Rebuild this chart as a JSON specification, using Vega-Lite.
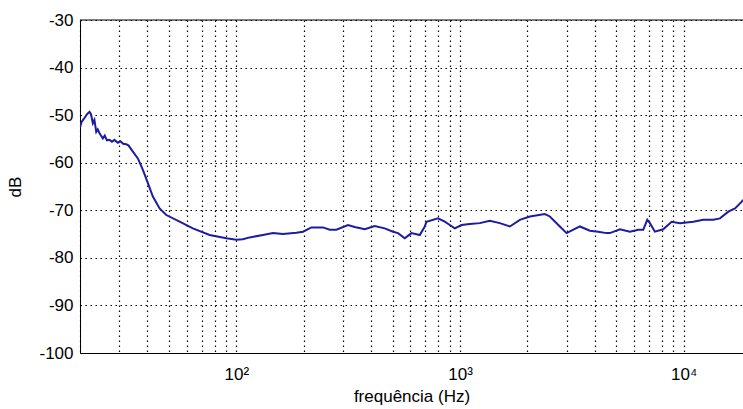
{
  "$schema": "https://vega.github.io/schema/vega-lite/v6.json",
  "width": 663,
  "height": 333,
  "autosize": {"type": "none"},
  "padding": {"left": 80, "top": 20, "right": 0, "bottom": 56},
  "background": "white",
  "config": {"view": {"stroke": null}, "font": "Liberation Sans"},
  "data": {"values": [
    {"f": 20, "db": -52.6}, {"f": 20.3, "db": -51.5}, {"f": 20.8, "db": -50.8}, {"f": 21.5, "db": -49.8},
    {"f": 22.06, "db": -49.3}, {"f": 22.4, "db": -49.8}, {"f": 22.83, "db": -51.7}, {"f": 23.2, "db": -51.0},
    {"f": 23.64, "db": -53.5}, {"f": 24.0, "db": -53.0}, {"f": 24.46, "db": -53.8}, {"f": 25.3, "db": -54.9},
    {"f": 25.8, "db": -54.3}, {"f": 26.4, "db": -55.3}, {"f": 27.11, "db": -55.2}, {"f": 27.8, "db": -55.6},
    {"f": 28.5, "db": -55.2}, {"f": 29.53, "db": -55.8}, {"f": 30.3, "db": -55.5}, {"f": 31.2, "db": -56.0},
    {"f": 32.19, "db": -56.1}, {"f": 33.0, "db": -56.4}, {"f": 33.9, "db": -57.2}, {"f": 36.29, "db": -59.1},
    {"f": 38.21, "db": -61.5}, {"f": 40.23, "db": -64.3}, {"f": 42.35, "db": -67.1}, {"f": 45.38, "db": -69.6},
    {"f": 48.63, "db": -71.0}, {"f": 55.76, "db": -72.4}, {"f": 63.94, "db": -73.8}, {"f": 75.96, "db": -75.2},
    {"f": 90.2, "db": -75.9}, {"f": 100, "db": -76.2}, {"f": 107, "db": -76.1}, {"f": 114.7, "db": -75.7},
    {"f": 131.5, "db": -75.2}, {"f": 145.8, "db": -74.8}, {"f": 161.6, "db": -75.0}, {"f": 185.5, "db": -74.7},
    {"f": 198.6, "db": -74.5}, {"f": 216.6, "db": -73.6}, {"f": 244.1, "db": -73.6}, {"f": 261.5, "db": -74.1},
    {"f": 280.2, "db": -74.1}, {"f": 315.7, "db": -73.1}, {"f": 338.3, "db": -73.5}, {"f": 375.0, "db": -74.0},
    {"f": 415.8, "db": -73.3}, {"f": 460.8, "db": -73.8}, {"f": 502.0, "db": -74.5}, {"f": 528.5, "db": -74.8},
    {"f": 566.2, "db": -75.9}, {"f": 606.7, "db": -74.8}, {"f": 660.9, "db": -75.2}, {"f": 695.9, "db": -73.4},
    {"f": 708.2, "db": -72.4}, {"f": 798.1, "db": -71.7}, {"f": 855.1, "db": -72.4}, {"f": 900.3, "db": -73.1},
    {"f": 947.8, "db": -73.8}, {"f": 1015.5, "db": -73.1}, {"f": 1106, "db": -72.9}, {"f": 1226, "db": -72.7},
    {"f": 1359, "db": -72.2}, {"f": 1507, "db": -72.7}, {"f": 1671, "db": -73.4}, {"f": 1852, "db": -72.0},
    {"f": 2053, "db": -71.3}, {"f": 2395, "db": -70.8}, {"f": 2522, "db": -71.3}, {"f": 2796, "db": -73.4},
    {"f": 2996, "db": -74.8}, {"f": 3436, "db": -73.4}, {"f": 3809, "db": -74.3}, {"f": 4148, "db": -74.5},
    {"f": 4524, "db": -74.8}, {"f": 4679, "db": -74.8}, {"f": 5188, "db": -74.0}, {"f": 5751, "db": -74.5},
    {"f": 6265, "db": -74.1}, {"f": 6596, "db": -74.1}, {"f": 6873, "db": -72.0}, {"f": 7067, "db": -72.7},
    {"f": 7438, "db": -74.5}, {"f": 8103, "db": -74.0}, {"f": 8837, "db": -72.4}, {"f": 9627, "db": -72.7},
    {"f": 11040, "db": -72.4}, {"f": 12240, "db": -72.0}, {"f": 13566, "db": -72.0}, {"f": 14536, "db": -71.7},
    {"f": 15838, "db": -70.3}, {"f": 16966, "db": -69.6}, {"f": 18180, "db": -68.2}, {"f": 18420, "db": -67.8}
  ]},
  "layer": [
    {
      "data": {"values": [{}]},
      "mark": {"type": "rule", "color": "black", "strokeWidth": 1},
      "encoding": {"y": {"datum": -30, "type": "quantitative"}}
    },
    {
      "mark": {"type": "line", "color": "#1c1ca0", "strokeWidth": 2, "clip": true},
      "encoding": {
        "x": {
          "field": "f", "type": "quantitative",
          "scale": {"type": "log", "domain": [20, 18420], "nice": false},
          "axis": {
            "title": "frequência (Hz)",
            "values": [20, 30, 40, 50, 60, 70, 80, 90, 100, 200, 300, 400, 500, 600, 700, 800, 900, 1000, 2000, 3000, 4000, 5000, 6000, 7000, 8000, 9000, 10000],
            "labelExpr": "datum.value == 100 ? '10²' : datum.value == 1000 ? '10³' : datum.value == 10000 ? '10⁴' : ''",
            "grid": true, "gridDash": [1.5, 3.5], "gridColor": "#000", "gridOpacity": 1, "gridWidth": 1.2,
            "ticks": false, "domainColor": "#000", "domainWidth": 1,
            "labelFontSize": 17, "labelColor": "#000", "labelPadding": 13, "labelOverlap": false, "labelFlush": false,
            "titleFontSize": 17, "titleFontWeight": "normal", "titleColor": "#000", "titlePadding": 6
          }
        },
        "y": {
          "field": "db", "type": "quantitative",
          "scale": {"domain": [-100, -30], "nice": false, "zero": false},
          "axis": {
            "title": "dB",
            "values": [-100, -90, -80, -70, -60, -50, -40, -30],
            "labelExpr": "'' + datum.value",
            "grid": true, "gridDash": [1.5, 3.5], "gridColor": "#000", "gridOpacity": 1, "gridWidth": 1.2,
            "ticks": false, "domainColor": "#000", "domainWidth": 1,
            "labelFontSize": 17, "labelColor": "#000", "labelPadding": 7, "labelFlush": false, "labelOverlap": false,
            "titleFontSize": 17, "titleFontWeight": "normal", "titleColor": "#000", "titlePadding": 14
          }
        }
      }
    }
  ]
}
